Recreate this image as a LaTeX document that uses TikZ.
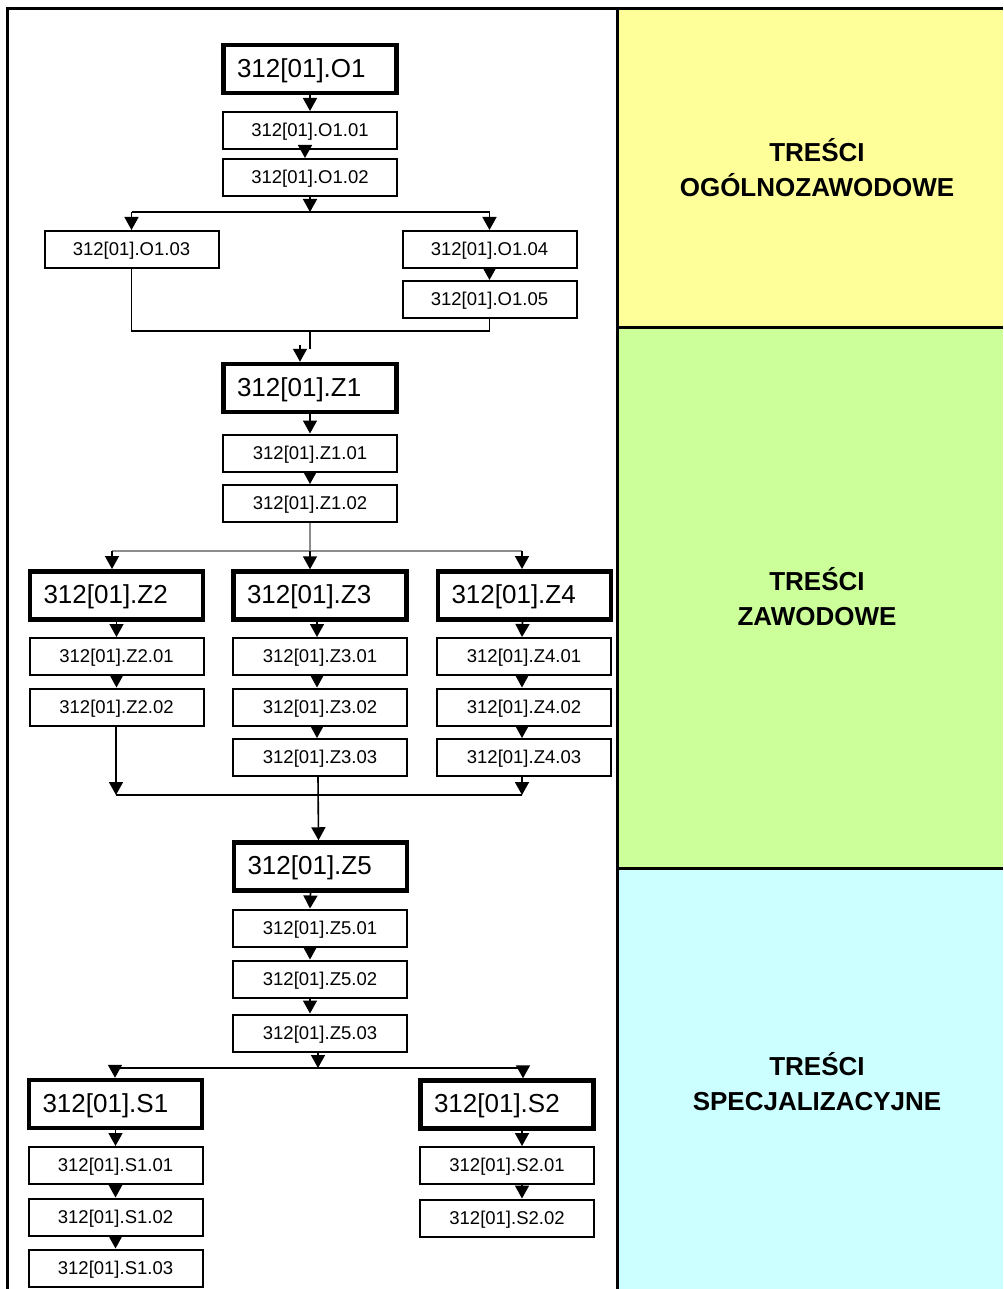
\documentclass[tikz,border=0pt]{standalone}
\usepackage{fontspec}
\setmainfont{Liberation Sans}
\usetikzlibrary{arrows.meta}
\definecolor{cyel}{HTML}{FFFF99}
\definecolor{cgrn}{HTML}{CCFF99}
\definecolor{ccyn}{HTML}{CCFFFF}
\definecolor{lgray}{HTML}{8C8C8C}
\begin{document}
\begin{tikzpicture}[x=1pt,y=-1pt,
  bigbox/.style={draw, line width=4.5pt, minimum width=173pt, minimum height=48pt, inner sep=0pt, text width=146pt, align=left, text depth=2pt, font=\fontsize{26}{30}\selectfont},
  smallbox/.style={draw, line width=2pt, minimum width=174pt, minimum height=37pt, inner sep=0pt, text depth=1pt, font=\fontsize{18.5}{22}\selectfont},
  lab/.style={font=\bfseries\fontsize{26}{35}\selectfont, align=center},
  arr/.style={-{Triangle[width=14pt,length=13pt]}, line width=1.6pt},
  ln/.style={line width=1.6pt},
  frame/.style={line width=3pt}]
\useasboundingbox (0,0) rectangle (1003,1289);
% background columns
\fill[cyel] (617,9) rectangle (1003,327);
\fill[cgrn] (617,327) rectangle (1003,868);
\fill[ccyn] (617,868) rectangle (1003,1289);
\draw[frame] (7,1289) -- (7,9) -- (1003,9);
\draw[frame] (617,9) -- (617,1289);
\draw[frame] (617,327) -- (1003,327);
\draw[frame] (617,868) -- (1003,868);
% labels
\node[lab] (L1) at (817,168) {TREŚCI\\OGÓLNOZAWODOWE};
\node[lab] (L2) at (817,597) {TREŚCI\\ZAWODOWE};
\node[lab] (L3) at (817,1082) {TREŚCI\\SPECJALIZACYJNE};
% O block
\node[bigbox] (O1) at (310,69) {312[01].O1};
\node[smallbox] (O101) at (310,130.5) {312[01].O1.01};
\node[smallbox] (O102) at (310,177.5) {312[01].O1.02};
\node[smallbox] (O103) at (131.5,249.5) {312[01].O1.03};
\node[smallbox] (O104) at (489.5,249.5) {312[01].O1.04};
\node[smallbox] (O105) at (489.5,299.5) {312[01].O1.05};
% Z1 block
\node[bigbox] (Z1) at (310,388) {312[01].Z1};
\node[smallbox] (Z101) at (310,453) {312[01].Z1.01};
\node[smallbox] (Z102) at (310,503.5) {312[01].Z1.02};
% Z2-Z4
\node[bigbox] (Z2) at (116.5,595.5) {312[01].Z2};
\node[bigbox] (Z3) at (320,595.5) {312[01].Z3};
\node[bigbox] (Z4) at (524.5,595.5) {312[01].Z4};
\node[smallbox] (Z201) at (116.5,656.5) {312[01].Z2.01};
\node[smallbox] (Z202) at (116.5,707) {312[01].Z2.02};
\node[smallbox] (Z301) at (320,656.5) {312[01].Z3.01};
\node[smallbox] (Z302) at (320,707) {312[01].Z3.02};
\node[smallbox] (Z303) at (320,757.5) {312[01].Z3.03};
\node[smallbox] (Z401) at (524,656.5) {312[01].Z4.01};
\node[smallbox] (Z402) at (524,707) {312[01].Z4.02};
\node[smallbox] (Z403) at (524,757.5) {312[01].Z4.03};
% Z5
\node[bigbox] (Z5) at (320.5,866.5) {312[01].Z5};
\node[smallbox] (Z501) at (320,928) {312[01].Z5.01};
\node[smallbox] (Z502) at (320,979) {312[01].Z5.02};
\node[smallbox] (Z503) at (320,1033) {312[01].Z5.03};
% S
\node[bigbox] (S1) at (115.5,1104) {312[01].S1};
\node[smallbox] (S101) at (115.5,1165.5) {312[01].S1.01};
\node[smallbox] (S102) at (115.5,1217) {312[01].S1.02};
\node[smallbox] (S103) at (115.5,1268) {312[01].S1.03};
\node[bigbox] (S2) at (507,1104.5) {312[01].S2};
\node[smallbox] (S201) at (507,1165.5) {312[01].S2.01};
\node[smallbox] (S202) at (507,1218) {312[01].S2.02};
% junction coordinates
\coordinate (j1) at (310,212);
\coordinate (j2) at (310,331);
\coordinate (j3) at (310,349);
\coordinate (j4) at (300,345);
\coordinate (j5) at (310,551);
\coordinate (j6l) at (116,795);
\coordinate (j6r) at (522,795);
\coordinate (j7) at (318,1068);
% O connectors
\draw[arr] (O1) -- (O101);
\draw[arr] ([xshift=-5pt]O101.south) -- ([xshift=-5pt]O102.north);
\draw[arr] (O102) -- (j1);
\draw[ln] (O103.north |- j1) -- (O104.north |- j1);
\draw[arr] (O103.north |- j1) -- (O103.north);
\draw[arr] (O104.north |- j1) -- (O104.north);
\draw[arr] (O104) -- (O105);
\draw[ln] (O103.south) |- (j2) -| (O105.south);
\draw[ln] (j2) -- (j3);
\draw[arr] (j4) -- (j4 |- Z1.north);
% Z1 connectors
\draw[arr] (Z1) -- (Z101);
\draw[arr] (Z101) -- (Z102);
\draw[ln, lgray, line width=1.4pt] (Z102.south) -- (j5);
\draw[ln, lgray, line width=1.8pt] (112,551) -- (522,551);
\draw[arr] (112,551) -- (112,569);
\draw[arr] (j5) -- (j5 |- Z3.north);
\draw[arr] (522,551) -- (522,569);
% Z2-Z4 columns
\draw[arr] (Z2) -- (Z201);
\draw[arr] (Z201) -- (Z202);
\draw[arr] ([xshift=-3pt]Z3.south) -- ([xshift=-3pt]Z301.north);
\draw[arr] ([xshift=-3pt]Z301.south) -- ([xshift=-3pt]Z302.north);
\draw[arr] ([xshift=-3pt]Z302.south) -- ([xshift=-3pt]Z303.north);
\draw[arr] ([xshift=-2pt]Z4.south) -- ([xshift=-2pt]Z401.north);
\draw[arr] ([xshift=-2pt]Z401.south) -- ([xshift=-2pt]Z402.north);
\draw[arr] ([xshift=-2pt]Z402.south) -- ([xshift=-2pt]Z403.north);
% merge to Z5
\draw[arr] (Z202.south -| j6l) -- (j6l);
\draw[arr] (Z403.south -| j6r) -- (j6r);
\draw[ln] (j6l) -- (j6r);
\draw[arr] ([xshift=-2pt]Z303.south) -- ([xshift=-2pt]Z5.north);
% Z5 column
\draw[arr] ([xshift=-10pt]Z5.south) -- ([xshift=-10pt]Z501.north);
\draw[arr] ([xshift=-10pt]Z501.south) -- ([xshift=-10pt]Z502.north);
\draw[arr] ([xshift=-10pt]Z502.south) -- ([xshift=-10pt]Z503.north);
\draw[arr] (Z503.south -| j7) -- (j7);
\draw[ln] (115,1068) -- (523,1068);
\draw[arr] (115,1068) -- (S1.north -| 115,0);
\draw[arr] (523,1068) -- (S2.north -| 523,0);
% S columns
\draw[arr] (S1) -- (S101);
\draw[arr] (S101) -- (S102);
\draw[arr] (S102) -- (S103);
\draw[arr] ([xshift=15pt]S2.south) -- ([xshift=15pt]S201.north);
\draw[arr] ([xshift=15pt]S201.south) -- ([xshift=15pt]S202.north);
\end{tikzpicture}
\end{document}
